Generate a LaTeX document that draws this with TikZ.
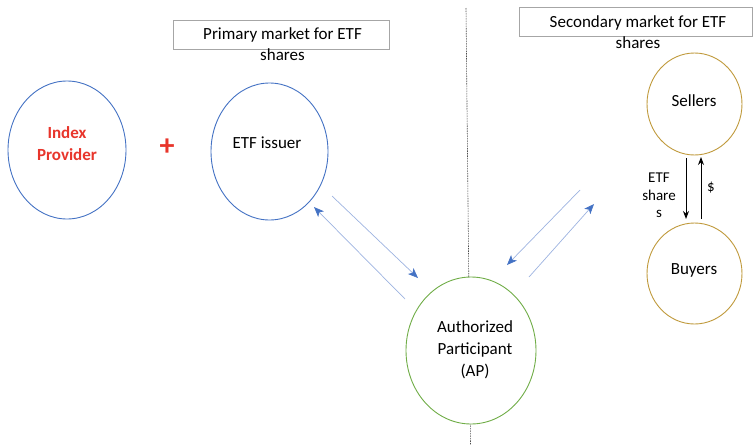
\documentclass[tikz,border=0pt]{standalone}
\usepackage{fontspec}
\setmainfont{Carlito}
\usetikzlibrary{shapes.geometric,arrows.meta}
\definecolor{eblue}{HTML}{4472C4}
\definecolor{lblue}{HTML}{9DB3E0}
\definecolor{egreen}{HTML}{70AD47}
\definecolor{egold}{HTML}{C09A3C}
\definecolor{eredtxt}{HTML}{E8352B}
\definecolor{boxgray}{HTML}{A6A6A6}
\begin{document}
\begin{tikzpicture}[x=1pt,y=-1pt,
  ell/.style={ellipse, draw, line width=0.9pt, fill=white, inner sep=0pt},
  txt/.style={font=\fontsize{17}{21}\selectfont, align=center, inner sep=0pt},
  smalltxt/.style={font=\fontsize{15}{17.5}\selectfont, align=center, inner sep=0pt},
  titlebox/.style={draw=boxgray, line width=0.8pt, fill=white, inner sep=0pt},
  flow/.style={draw=lblue, line width=0.7pt, -{Stealth[length=10pt,width=8pt,inset=2.5pt,fill=eblue,color=eblue]}},
  trade/.style={draw=black, line width=1pt, -{Stealth[length=8pt,width=6pt]}}
]
\useasboundingbox (0,0) rectangle (753,445);

% dotted divider
\coordinate (dtop) at (466,8);
\coordinate (dbot) at (470.5,445);
\draw[black!70, line width=0.6pt, dash pattern=on 1.5pt off 1pt] (dtop) -- (dbot);

% title boxes
\node[titlebox, minimum width=216pt, minimum height=29pt] (pbox) at (281,34.5) {};
\node[txt] (ptext) at (282.5,44) {Primary market for ETF\\shares};
\node[titlebox, minimum width=233pt, minimum height=29pt] (sbox) at (635.5,21.5) {};
\node[txt] (stext) at (638,32.5) {Secondary market for ETF\\shares};

% ellipses
\node[ell, draw=eblue, minimum width=118pt, minimum height=138pt] (ip) at (67,150) {};
\node[txt, text=eredtxt, font=\fontsize{17}{22.5}\selectfont\bfseries] (iptext) at (67,143.5) {Index\\Provider};
\node[txt, text=eredtxt, font=\fontsize{30}{30}\selectfont\bfseries] (plus) at (167,147) {+};

\node[ell, draw=eblue, minimum width=117pt, minimum height=137pt] (issuer) at (269.5,151.5) {};
\node[txt] (issuertext) at (267,143) {ETF issuer};

\node[ell, draw=egreen, minimum width=130pt, minimum height=147pt] (ap) at (471,350.5) {};
\node[txt, font=\fontsize{17}{22}\selectfont] (aptext) at (475,350) {Authorized\\Participant\\(AP)};

\node[ell, draw=egold, minimum width=95pt, minimum height=102pt] (sellers) at (694.5,104) {};
\node[txt] (sellerstext) at (694,101) {Sellers};
\node[ell, draw=egold, minimum width=95pt, minimum height=101pt] (buyers) at (694.5,273.5) {};
\node[txt] (buyerstext) at (694,270) {Buyers};

% trade arrows between sellers and buyers
\coordinate (s1) at (686,158);
\coordinate (b1) at (686,219);
\coordinate (b2) at (701,219);
\coordinate (s2) at (701,157);
\draw[trade] (s1) -- (b1);
\draw[trade] (b2) -- (s2);
\node[smalltxt] (etfshares) at (659,195.5) {ETF\\share\\s};
\node[smalltxt] (dollar) at (711,188) {\$};

% flow arrows primary market
\coordinate (a1s) at (332,196);
\coordinate (a1e) at (418,278);
\coordinate (a2s) at (405,299);
\coordinate (a2e) at (314,207);
\draw[flow] (a1s) -- (a1e);
\draw[flow] (a2s) -- (a2e);

% flow arrows secondary market
\coordinate (a3s) at (580,190);
\coordinate (a3e) at (507,265);
\coordinate (a4s) at (529,277);
\coordinate (a4e) at (594,204);
\draw[flow] (a3s) -- (a3e);
\draw[flow] (a4s) -- (a4e);
\end{tikzpicture}
\end{document}
